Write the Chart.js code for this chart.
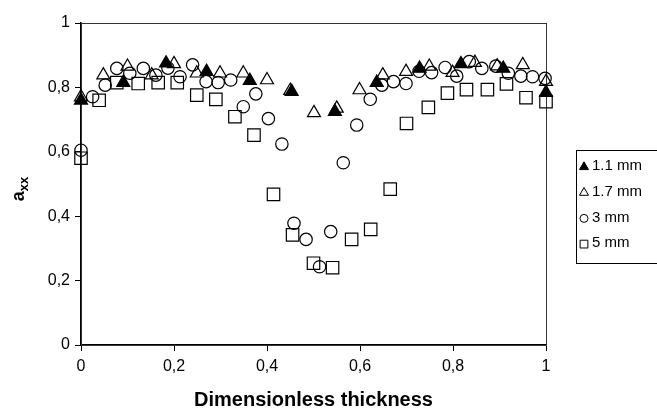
<!DOCTYPE html>
<html lang="en">
<head>
<meta charset="UTF-8">
<title>axx vs dimensionless thickness</title>
<script src="https://cdn.jsdelivr.net/npm/chart.js"></script>
<style>
  html, body { margin: 0; padding: 0; background: #fff; }
  #wrap { position: relative; width: 657px; height: 417px; }
</style>
</head>
<body>
<div id="wrap"><canvas id="grafico"></canvas></div>
<script>
// series
const seriesNames = ['1.1 mm', '1.7 mm', '3 mm', '5 mm'];
const seriesStyles = ['triangle', 'triangle', 'circle', 'rect'];

const x11 = [0, 0.091, 0.183, 0.27, 0.363, 0.453, 0.546, 0.636, 0.728, 0.817, 0.908, 1];
const y11 = [0.76, 0.815, 0.875, 0.849, 0.821, 0.787, 0.725, 0.815, 0.859, 0.873, 0.859, 0.784];

const x17 = [0, 0.048, 0.1, 0.152, 0.2, 0.249, 0.299, 0.349, 0.4, 0.45, 0.501, 0.55, 0.599, 0.649, 0.699, 0.749, 0.799, 0.847, 0.895, 0.95, 1];
const y17 = [0.77, 0.838, 0.865, 0.838, 0.873, 0.844, 0.844, 0.844, 0.823, 0.79, 0.721, 0.735, 0.792, 0.838, 0.849, 0.865, 0.846, 0.877, 0.866, 0.87, 0.818];

const x3 = [0, 0.025, 0.052, 0.077, 0.105, 0.134, 0.161, 0.187, 0.213, 0.24, 0.269, 0.295, 0.322, 0.349, 0.376, 0.403, 0.432, 0.458, 0.484, 0.513, 0.537, 0.564, 0.593, 0.622, 0.647, 0.672, 0.699, 0.727, 0.754, 0.783, 0.808, 0.835, 0.862, 0.892, 0.919, 0.946, 0.971, 0.998];
const y3 = [0.605, 0.771, 0.807, 0.859, 0.844, 0.859, 0.838, 0.86, 0.833, 0.87, 0.818, 0.815, 0.823, 0.74, 0.78, 0.703, 0.624, 0.378, 0.328, 0.243, 0.352, 0.566, 0.683, 0.763, 0.807, 0.818, 0.812, 0.85, 0.846, 0.862, 0.835, 0.88, 0.859, 0.866, 0.844, 0.835, 0.833, 0.828];

const x5 = [0, 0.039, 0.077, 0.123, 0.166, 0.207, 0.249, 0.29, 0.331, 0.372, 0.414, 0.455, 0.5, 0.541, 0.582, 0.623, 0.665, 0.7, 0.747, 0.788, 0.829, 0.874, 0.915, 0.957, 1];
const y5 = [0.58, 0.76, 0.815, 0.812, 0.815, 0.815, 0.776, 0.763, 0.709, 0.652, 0.468, 0.342, 0.254, 0.24, 0.328, 0.359, 0.484, 0.688, 0.738, 0.782, 0.793, 0.793, 0.811, 0.768, 0.756];

const tickValues = [0, 0.2, 0.4, 0.6, 0.8, 1];

function pares(xs, ys) {
    return xs.map((x, i) => ({ x: x, y: ys[i] }));
}

function coma(v) {
    return String(Number(v.toFixed(1))).replace('.', ',');
}

const FONT = 'Arial, "Liberation Sans", sans-serif';

// box round the plot, axis titles and the legend
const extras = {
    id: 'extras',
    beforeDatasetsDraw(chart) {
        const a = chart.chartArea, ctx = chart.ctx;
        ctx.save();
        ctx.strokeStyle = '#333';
        ctx.lineWidth = 1;
        ctx.strokeRect(a.left + 0.5, a.top + 0.5, a.right - a.left, a.bottom - a.top);
        ctx.restore();
    },
    afterDraw(chart) {
        const a = chart.chartArea, ctx = chart.ctx;
        ctx.save();
        ctx.fillStyle = '#000';
        // x title
        ctx.font = 'bold 20px ' + FONT;
        ctx.textAlign = 'center';
        ctx.textBaseline = 'middle';
        ctx.fillText('Dimensionless thickness', (a.left + a.right) / 2, 400);
        // y title: a with subscript xx
        ctx.translate(19, 189);
        ctx.rotate(-Math.PI / 2);
        ctx.textAlign = 'left';
        ctx.textBaseline = 'alphabetic';
        ctx.font = 'bold 18px ' + FONT;
        const wa = ctx.measureText('a').width;
        ctx.font = 'bold 13px ' + FONT;
        const wx = ctx.measureText('xx').width;
        const x0 = -(wa + wx) / 2;
        ctx.font = 'bold 18px ' + FONT;
        ctx.fillText('a', x0, 5);
        ctx.font = 'bold 13px ' + FONT;
        ctx.fillText('xx', x0 + wa, 9);
        ctx.restore();

        // legend
        ctx.save();
        ctx.strokeStyle = '#000';
        ctx.lineWidth = 1;
        ctx.strokeRect(576.5, 150.5, 110, 113);
        ctx.font = '15px ' + FONT;
        ctx.textBaseline = 'middle';
        ctx.textAlign = 'left';
        chart.data.datasets.forEach((ds, i) => {
            const yy = 166 + i * 25.7;
            ctx.lineWidth = 1;
            ctx.strokeStyle = '#000';
            ctx.fillStyle = ds.pointBackgroundColor;
            const r = ds.pointStyle === 'rect' ? 5.5 : (ds.pointStyle === 'circle' ? 4 : 5.2);
            Chart.helpers.drawPoint(ctx, { pointStyle: ds.pointStyle, radius: r, rotation: 0, borderWidth: 1 }, 584, yy + 1);
            ctx.fillStyle = '#000';
            ctx.fillText(ds.label, 592, yy);
        });
        ctx.restore();
    }
};

const ctx = document.getElementById('grafico').getContext('2d');
new Chart(ctx, {
    type: 'scatter',
    data: {
        datasets: [
            { label: seriesNames[0], data: pares(x11, y11), pointStyle: seriesStyles[0], pointRadius: 7.5, pointBackgroundColor: '#000', pointBorderColor: '#000', pointBorderWidth: 1.2, clip: false },
            { label: seriesNames[1], data: pares(x17, y17), pointStyle: seriesStyles[1], pointRadius: 7.5, pointBackgroundColor: 'rgba(0,0,0,0)', pointBorderColor: '#000', pointBorderWidth: 1.2, clip: false },
            { label: seriesNames[2], data: pares(x3, y3), pointStyle: seriesStyles[2], pointRadius: 6.2, pointBackgroundColor: 'rgba(0,0,0,0)', pointBorderColor: '#000', pointBorderWidth: 1.2, clip: false },
            { label: seriesNames[3], data: pares(x5, y5), pointStyle: seriesStyles[3], pointRadius: 8.8, pointBackgroundColor: 'rgba(0,0,0,0)', pointBorderColor: '#000', pointBorderWidth: 1.2, clip: false }
        ]
    },
    options: {
        responsive: true,
        maintainAspectRatio: false,
        animation: false,
        events: [],
        layout: { padding: { top: 23, right: 111, left: 0, bottom: 0 } },
        plugins: { legend: { display: false }, tooltip: { enabled: false } },
        scales: {
            x: {
                type: 'linear', min: 0, max: 1,
                afterBuildTicks: s => { s.ticks = tickValues.map(v => ({ value: v })); },
                afterFit: s => { s.height = 72; },
                grid: { display: true, drawOnChartArea: false, drawTicks: true, tickLength: 6, color: '#000', tickWidth: 1 },
                border: { display: true, color: '#000', width: 1.6 },
                ticks: { color: '#000', font: { family: FONT, size: 16 }, padding: 6, callback: v => coma(v) }
            },
            y: {
                type: 'linear', min: 0, max: 1,
                afterBuildTicks: s => { s.ticks = tickValues.map(v => ({ value: v })); },
                afterFit: s => { s.width = 81; },
                grid: { display: true, drawOnChartArea: false, drawTicks: true, tickLength: 6, color: '#000', tickWidth: 1 },
                border: { display: true, color: '#000', width: 1.6 },
                ticks: { color: '#000', font: { family: FONT, size: 16 }, padding: 5, callback: v => coma(v) }
            }
        }
    },
    plugins: [extras]
});
</script>
</body>
</html>
